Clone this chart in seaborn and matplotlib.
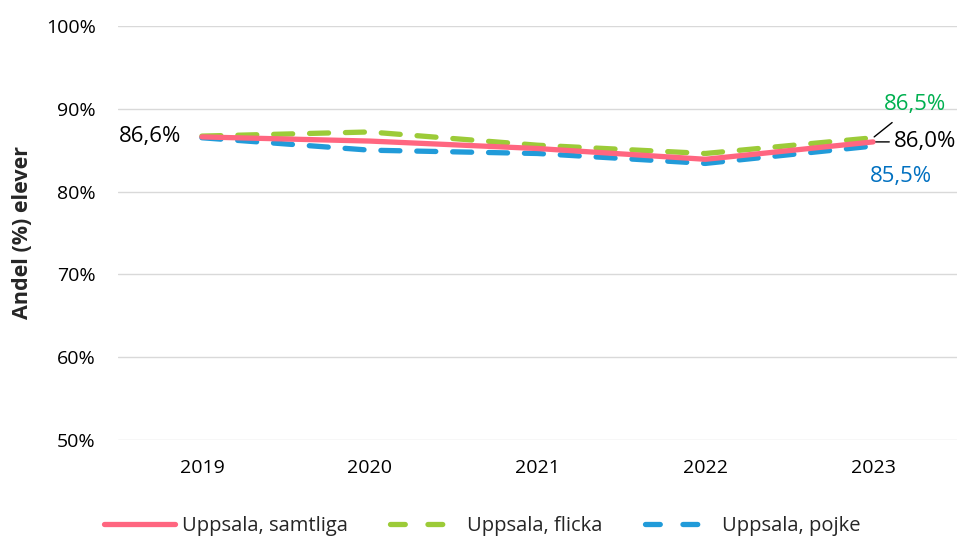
"""Andel elever i Uppsala, 2019-2023."""

import matplotlib.pyplot as plt
import pandas as pd
import seaborn as sns
from matplotlib.lines import Line2D

years = ["2019", "2020", "2021", "2022", "2023"]
samtliga = [86.6, 86.1, 85.2, 83.9, 86.0]
flicka = [86.7, 87.2, 85.6, 84.6, 86.5]
pojke = [86.5, 85.0, 84.6, 83.4, 85.5]
series_names = ["Uppsala, samtliga", "Uppsala, flicka", "Uppsala, pojke"]

sns.set_theme(style="white")
plt.rcParams["font.family"] = ["Open Sans", "DejaVu Sans"]

df = pd.DataFrame({"year": years, series_names[0]: samtliga,
                   series_names[1]: flicka, series_names[2]: pojke})
long = df.melt(id_vars="year", var_name="serie", value_name="andel")
long["x"] = long["year"].map({y: i for i, y in enumerate(years)})

colors = {series_names[0]: "#FF6680", series_names[1]: "#9CCB38", series_names[2]: "#219BD9"}
dashed = {series_names[0]: False, series_names[1]: True, series_names[2]: True}

fig = plt.figure(figsize=(9.65, 5.41), dpi=100)
ax = fig.add_axes([0.1223, 0.1867, 0.8694, 0.7653])

# dashed series first, solid on top
for name in [series_names[1], series_names[2], series_names[0]]:
    sub = long[long["serie"] == name]
    ls = (0, (3.6, 3.2)) if dashed[name] else "-"
    sns.lineplot(data=sub, x="x", y="andel", ax=ax, color=colors[name], lw=3.8,
                 linestyle=ls, solid_capstyle="round", dash_capstyle="round",
                 legend=False)

ax.set_xlim(-0.5, len(years) - 0.5)
ax.set_ylim(50, 100)
ax.set_xticks(range(len(years)))
ax.set_xticklabels(years)
ax.set_yticks(range(50, 101, 10))
ax.set_yticklabels([f"{v}%" for v in range(50, 101, 10)])
ax.tick_params(axis="both", labelsize=14, length=0, colors="black")
ax.tick_params(axis="y", pad=16)
ax.tick_params(axis="x", pad=14)
ax.grid(axis="y", color="#D9D9D9", lw=1)
for s in ax.spines.values():
    s.set_visible(False)
ax.set_xlabel("")
ax.set_ylabel("Andel (%) elever", fontsize=15.5, fontweight="bold", labelpad=9)

fmt = lambda v: f"{v:.1f}%".replace(".", ",")
ax.annotate(fmt(samtliga[0]), (0, samtliga[0]), xytext=(-15, 0), textcoords="offset points",
            ha="right", va="center", fontsize=16, color="black")
last = len(years) - 1
ax.annotate(fmt(flicka[-1]), (last, flicka[-1]), xytext=(30, 24), textcoords="offset points",
            ha="center", va="center", fontsize=16, color="#00B050",
            arrowprops=dict(arrowstyle="-", color="black", lw=1, shrinkA=5, shrinkB=1))
ax.annotate(fmt(samtliga[-1]), (last, samtliga[-1]), xytext=(15, 0), textcoords="offset points",
            ha="left", va="center", fontsize=16, color="black",
            arrowprops=dict(arrowstyle="-", color="black", lw=1, shrinkA=1, shrinkB=2))
ax.annotate(fmt(pojke[-1]), (last, pojke[-1]), xytext=(20, -22), textcoords="offset points",
            ha="center", va="center", fontsize=16, color="#0070C0")

handles = [Line2D([], [], color=colors[n], lw=3.8, solid_capstyle="round",
                  dash_capstyle="round",
                  linestyle=(0, (2.8, 4.3)) if dashed[n] else "-")
           for n in series_names]
fig.legend(handles, series_names, loc="lower center",
           bbox_to_anchor=(0.5, -0.025), ncol=3, frameon=False, fontsize=14.5,
           handlelength=3.5, columnspacing=2.1, handletextpad=0.35)

fig.savefig("out.png", dpi=100)
